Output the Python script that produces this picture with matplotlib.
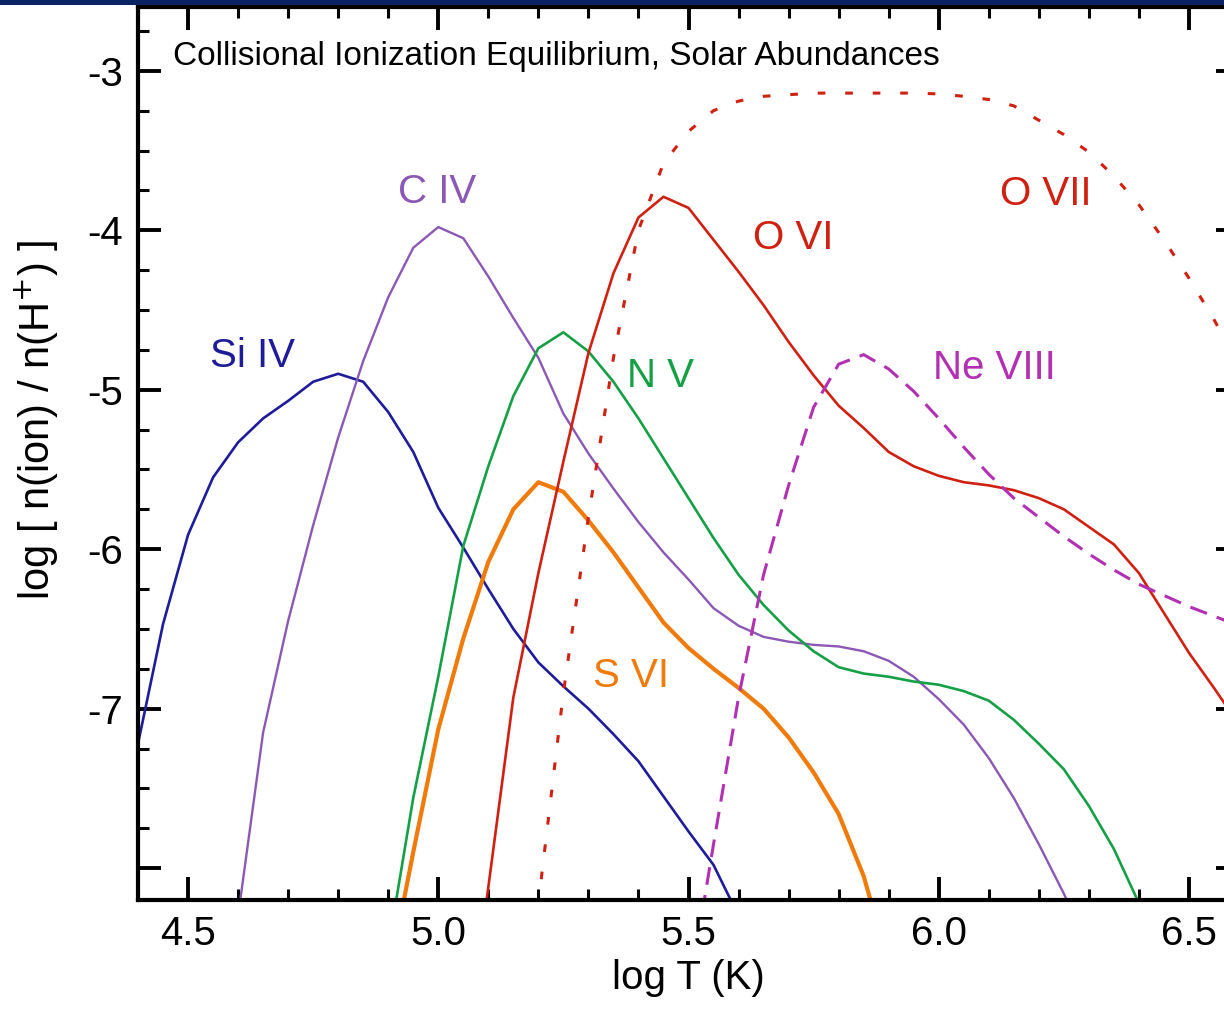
import numpy as np
import matplotlib
matplotlib.use("Agg")
import matplotlib.pyplot as plt
from matplotlib.patches import Rectangle
from matplotlib.ticker import FixedLocator, FixedFormatter, MultipleLocator

plt.rcParams['font.family'] = ['Liberation Sans', 'DejaVu Sans']

# log T grid (0.05 dex steps) and ion fractions, log n(ion)/n(H+)
t_si4 = [4.40, 4.45, 4.50, 4.55, 4.60, 4.65, 4.70, 4.75, 4.80, 4.85, 4.90, 4.95,
         5.00, 5.05, 5.10, 5.15, 5.20, 5.25, 5.30, 5.35, 5.40, 5.45, 5.50, 5.55, 5.60]
si4 = [-7.22, -6.47, -5.91, -5.55, -5.33, -5.18, -5.07, -4.95, -4.90, -4.95, -5.14, -5.39,
       -5.74, -5.99, -6.25, -6.50, -6.71, -6.86, -7.00, -7.16, -7.33, -7.55, -7.77, -7.98, -8.30]

t_c4 = [4.60, 4.65, 4.70, 4.75, 4.80, 4.85, 4.90, 4.95, 5.00, 5.05, 5.10, 5.15, 5.20,
        5.25, 5.30, 5.35, 5.40, 5.45, 5.50, 5.55, 5.60, 5.65, 5.70, 5.75, 5.80, 5.85,
        5.90, 5.95, 6.00, 6.05, 6.10, 6.15, 6.20, 6.25, 6.30]
c4 = [-8.30, -7.15, -6.45, -5.85, -5.30, -4.82, -4.42, -4.11, -3.98, -4.05, -4.29, -4.55, -4.80,
      -5.15, -5.40, -5.62, -5.83, -6.02, -6.19, -6.37, -6.48, -6.55, -6.58, -6.60, -6.61, -6.64,
      -6.70, -6.80, -6.94, -7.10, -7.31, -7.56, -7.85, -8.16, -8.50]

t_n5 = [4.90, 4.95, 5.00, 5.05, 5.10, 5.15, 5.20, 5.25, 5.30, 5.35, 5.40, 5.45, 5.50,
        5.55, 5.60, 5.65, 5.70, 5.75, 5.80, 5.85, 5.90, 5.95, 6.00, 6.05, 6.10, 6.15,
        6.20, 6.25, 6.30, 6.35, 6.40, 6.45]
n5 = [-8.50, -7.56, -6.80, -5.98, -5.48, -5.04, -4.74, -4.64, -4.76, -4.95, -5.18, -5.43, -5.68,
      -5.93, -6.16, -6.35, -6.51, -6.64, -6.74, -6.78, -6.80, -6.83, -6.85, -6.89, -6.95, -7.07,
      -7.22, -7.38, -7.61, -7.88, -8.22, -8.60]

t_s6 = [4.90, 4.95, 5.00, 5.05, 5.10, 5.15, 5.20, 5.25, 5.30, 5.35, 5.40, 5.45, 5.50,
        5.55, 5.60, 5.65, 5.70, 5.75, 5.80, 5.85, 5.90]
s6 = [-8.70, -7.90, -7.13, -6.56, -6.08, -5.75, -5.58, -5.64, -5.82, -6.02, -6.24, -6.46, -6.62,
      -6.75, -6.87, -7.00, -7.18, -7.40, -7.66, -8.05, -8.60]

t_o6 = [5.05, 5.10, 5.15, 5.20, 5.25, 5.30, 5.35, 5.40, 5.45, 5.50, 5.55, 5.60, 5.65,
        5.70, 5.75, 5.80, 5.85, 5.90, 5.95, 6.00, 6.05, 6.10, 6.15, 6.20, 6.25, 6.30,
        6.35, 6.40, 6.45, 6.50, 6.55, 6.60]
o6 = [-9.30, -8.12, -6.93, -6.15, -5.45, -4.77, -4.27, -3.92, -3.79, -3.86, -4.06, -4.26, -4.47,
      -4.70, -4.91, -5.10, -5.24, -5.39, -5.48, -5.54, -5.58, -5.60, -5.63, -5.68, -5.75, -5.86,
      -5.97, -6.15, -6.40, -6.65, -6.87, -7.10]

t_o7 = [5.15, 5.20, 5.25, 5.30, 5.35, 5.40, 5.45, 5.50, 5.55, 5.60, 5.65, 5.70, 5.75,
        5.80, 5.85, 5.90, 5.95, 6.00, 6.05, 6.10, 6.15, 6.20, 6.25, 6.30, 6.35, 6.40,
        6.45, 6.50, 6.55, 6.60]
o7 = [-9.80, -8.22, -6.90, -5.80, -4.80, -4.00, -3.58, -3.38, -3.25, -3.19, -3.16, -3.15, -3.14,
      -3.14, -3.14, -3.14, -3.14, -3.145, -3.16, -3.18, -3.22, -3.31, -3.40, -3.51, -3.66, -3.84,
      -4.06, -4.30, -4.56, -4.85]

t_ne8 = [5.50, 5.55, 5.60, 5.65, 5.70, 5.75, 5.80, 5.85, 5.90, 5.95, 6.00, 6.05, 6.10,
         6.15, 6.20, 6.25, 6.30, 6.35, 6.40, 6.45, 6.50, 6.55, 6.60]
ne8 = [-8.80, -7.85, -6.93, -6.16, -5.60, -5.11, -4.84, -4.78, -4.87, -5.01, -5.18, -5.36, -5.53,
       -5.68, -5.80, -5.92, -6.03, -6.13, -6.22, -6.29, -6.36, -6.42, -6.48]

# ion name, label x, label baseline y
ion_labels = ['Si IV', 'C IV', 'N V', 'S VI', 'O VI', 'O VII', 'Ne VIII']
label_x = [4.628, 4.997, 5.445, 5.385, 5.709, 6.214, 6.112]
label_y = [-4.86, -3.826, -4.984, -6.862, -4.12, -3.839, -4.934]

navy = '#1e1c98'
purple = '#8c58b6'
green = '#16a046'
orange = '#f07a0a'
red = '#cf2011'
magenta = '#b230b2'
label_colors = [navy, purple, green, orange, red, red, magenta]

fig = plt.figure(figsize=(12.24, 10.15), dpi=100)
ax = fig.add_axes([138 / 1224, 1 - 900 / 1015, 1101 / 1224, 893 / 1015])

ax.plot(t_si4, si4, color=navy, lw=1.9)
ax.plot(t_c4, c4, color=purple, lw=1.7)
ax.plot(t_n5, n5, color=green, lw=1.9)
ax.plot(t_s6, s6, color=orange, lw=3.0)
ax.plot(t_o6, o6, color=red, lw=1.9)
ax.plot(t_o7, o7, color=red, lw=2.2, linestyle=(0, (2.5, 6.5)))
ax.plot(t_ne8, ne8, color=magenta, lw=2.2, linestyle=(0, (5.8, 3.4)))

for name, x, y, c in zip(ion_labels, label_x, label_y, label_colors):
    ax.text(x, y, name, color=c, fontsize=29, ha='center', va='baseline')

ax.text(0.032, 0.935, 'Collisional Ionization Equilibrium, Solar Abundances',
        transform=ax.transAxes, fontsize=24, ha='left', va='baseline')

ax.set_xlim(4.4, 6.6)
ax.set_ylim(-8.2, -2.6)

ax.xaxis.set_major_locator(FixedLocator([4.5, 5.0, 5.5, 6.0, 6.5]))
ax.xaxis.set_major_formatter(FixedFormatter(['4.5', '5.0', '5.5', '6.0', '6.5']))
ax.xaxis.set_minor_locator(MultipleLocator(0.1))
ax.yaxis.set_major_locator(FixedLocator([-8, -7, -6, -5, -4, -3]))
ax.yaxis.set_major_formatter(FixedFormatter(['', '-7', '-6', '-5', '-4', '-3']))
ax.yaxis.set_minor_locator(MultipleLocator(0.25))

ax.tick_params(which='both', direction='in', top=True, right=True, labelsize=29)
ax.tick_params(which='major', length=16.5, width=2.8, pad=11)
ax.tick_params(which='minor', length=8, width=2.2)
for s in ax.spines.values():
    s.set_linewidth(3.0)

ax.set_xlabel('log T (K)', fontsize=29, labelpad=4)
ax.set_ylabel('log [ n(ion) / n(H$^{+}$) ]', fontsize=30)
ax.yaxis.set_label_coords(-0.071, 0.5375)

# dark banner strip along the top edge
fig.add_artist(Rectangle((0, 1 - 4.5 / 1015), 1, 4.5 / 1015, transform=fig.transFigure,
                         color='#0a2463', lw=0))

fig.savefig('out.png', dpi=100)
